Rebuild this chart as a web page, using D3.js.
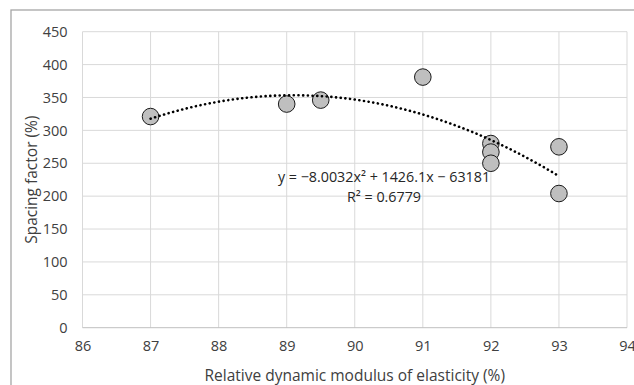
<!DOCTYPE html>
<html>
<head>
<meta charset="utf-8">
<script src="https://cdn.jsdelivr.net/npm/d3@7"></script>
<style>
  body { margin: 0; background: #fff; }
  svg { display: block; font-family: "Open Sans", "Noto Sans", sans-serif; }
</style>
</head>
<body>
<div class="canvas"></div>
<script>
// measured points
const modulus = [87, 89, 89.5, 91, 92, 92, 92, 93, 93];
const spacing = [321, 340, 346, 381, 280, 267, 250, 275, 204];

const xTicks = [86, 87, 88, 89, 90, 91, 92, 93, 94];
const yTicks = [0, 50, 100, 150, 200, 250, 300, 350, 400, 450];

const equationText = "y = \u22128.0032x\u00B2 + 1426.1x \u2212 63181";
const r2Text = "R\u00B2 = 0.6779";

const dims = { width: 634, height: 385 };
const plot = { left: 82.5, right: 627, top: 31.7, bottom: 327.7 };

const svg = d3
  .select(".canvas")
  .append("svg")
  .attr("width", dims.width)
  .attr("height", dims.height);

// chart border (runs off the right/bottom edge)
svg
  .append("rect")
  .attr("x", 11)
  .attr("y", 10)
  .attr("width", 700)
  .attr("height", 500)
  .attr("fill", "none")
  .attr("stroke", "#a6a6a6")
  .attr("stroke-width", 1.3);

const x = d3.scaleLinear().domain([86, 94]).range([plot.left, plot.right]);
const y = d3.scaleLinear().domain([0, 450]).range([plot.bottom, plot.top]);

// gridlines
const grid = svg.append("g");
grid
  .selectAll("line.h")
  .data(yTicks.slice(1))
  .enter()
  .append("line")
  .attr("x1", plot.left)
  .attr("x2", plot.right)
  .attr("y1", (d) => y(d))
  .attr("y2", (d) => y(d))
  .attr("stroke", "#d9d9d9")
  .attr("stroke-width", 1);

grid
  .selectAll("line.v")
  .data(xTicks)
  .enter()
  .append("line")
  .attr("x1", (d) => x(d))
  .attr("x2", (d) => x(d))
  .attr("y1", plot.top)
  .attr("y2", plot.bottom)
  .attr("stroke", "#d9d9d9")
  .attr("stroke-width", 1);

// x axis line
svg
  .append("line")
  .attr("x1", plot.left)
  .attr("x2", plot.right)
  .attr("y1", y(0))
  .attr("y2", y(0))
  .attr("stroke", "#bfbfbf")
  .attr("stroke-width", 1);

// axes (labels only)
const xAxis = svg
  .append("g")
  .attr("transform", `translate(0,${plot.bottom + 8})`)
  .call(d3.axisBottom(x).tickValues(xTicks).tickSize(0).tickPadding(5));
const yAxis = svg
  .append("g")
  .attr("transform", `translate(${plot.left - 15},0)`)
  .call(d3.axisLeft(y).tickValues(yTicks).tickSize(0).tickPadding(0));

[xAxis, yAxis].forEach((g) => {
  g.select(".domain").remove();
  g.selectAll("text")
    .attr("fill", "#404040")
    .style("font-size", "14.5px")
    .style("font-family", "'Open Sans', sans-serif");
});

// axis titles
svg
  .append("text")
  .attr("x", (plot.left + plot.right) / 2)
  .attr("y", 381)
  .attr("text-anchor", "middle")
  .attr("fill", "#404040")
  .style("font-size", "15.5px")
  .text("Relative dynamic modulus of elasticity (%)");

svg
  .append("text")
  .attr("transform", `translate(37,${(plot.top + plot.bottom) / 2}) rotate(-90)`)
  .attr("text-anchor", "middle")
  .attr("fill", "#404040")
  .style("font-size", "15.5px")
  .text("Spacing factor (%)");

// least squares quadratic fit (like the Excel trendline)
const fitQuad = (xs, ys) => {
  const m = d3.mean(xs);
  const u = xs.map((v) => v - m);
  const S = (k) => d3.sum(u, (v) => Math.pow(v, k));
  const T = (k) => d3.sum(u, (v, i) => Math.pow(v, k) * ys[i]);
  const A = [
    [S(4), S(3), S(2)],
    [S(3), S(2), S(1)],
    [S(2), S(1), xs.length],
  ];
  const b = [T(2), T(1), T(0)];
  // gaussian elimination
  for (let i = 0; i < 3; i++) {
    for (let j = i + 1; j < 3; j++) {
      const f = A[j][i] / A[i][i];
      for (let k = i; k < 3; k++) A[j][k] -= f * A[i][k];
      b[j] -= f * b[i];
    }
  }
  const c = [0, 0, 0];
  for (let i = 2; i >= 0; i--) {
    let s = b[i];
    for (let k = i + 1; k < 3; k++) s -= A[i][k] * c[k];
    c[i] = s / A[i][i];
  }
  return (v) => c[0] * (v - m) * (v - m) + c[1] * (v - m) + c[2];
};

const trend = fitQuad(modulus, spacing);
const trendPts = d3.range(87, 93.0001, 0.05).map((v) => [v, trend(v)]);

const line = d3
  .line()
  .x((d) => x(d[0]))
  .y((d) => y(d[1]));

// markers
svg
  .append("g")
  .selectAll("circle")
  .data(modulus.map((d, i) => ({ x: d, y: spacing[i] })))
  .enter()
  .append("circle")
  .attr("cx", (d) => x(d.x))
  .attr("cy", (d) => y(d.y))
  .attr("r", 8.3)
  .attr("fill", "#bfbfbf")
  .attr("stroke", "#1a1a1a")
  .attr("stroke-width", 1);

// trendline on top
svg
  .append("path")
  .attr("d", line(trendPts))
  .attr("fill", "none")
  .attr("stroke", "#000")
  .attr("stroke-width", 2.6)
  .attr("stroke-linecap", "round")
  .attr("stroke-dasharray", "0.1 4.6");

// equation label
const eq = svg
  .append("text")
  .attr("text-anchor", "middle")
  .attr("fill", "#262626")
  .style("font-size", "14.3px");
eq.append("tspan").attr("x", 384).attr("y", 182).text(equationText);
eq.append("tspan").attr("x", 384).attr("y", 202).text(r2Text);
</script>
</body>
</html>
